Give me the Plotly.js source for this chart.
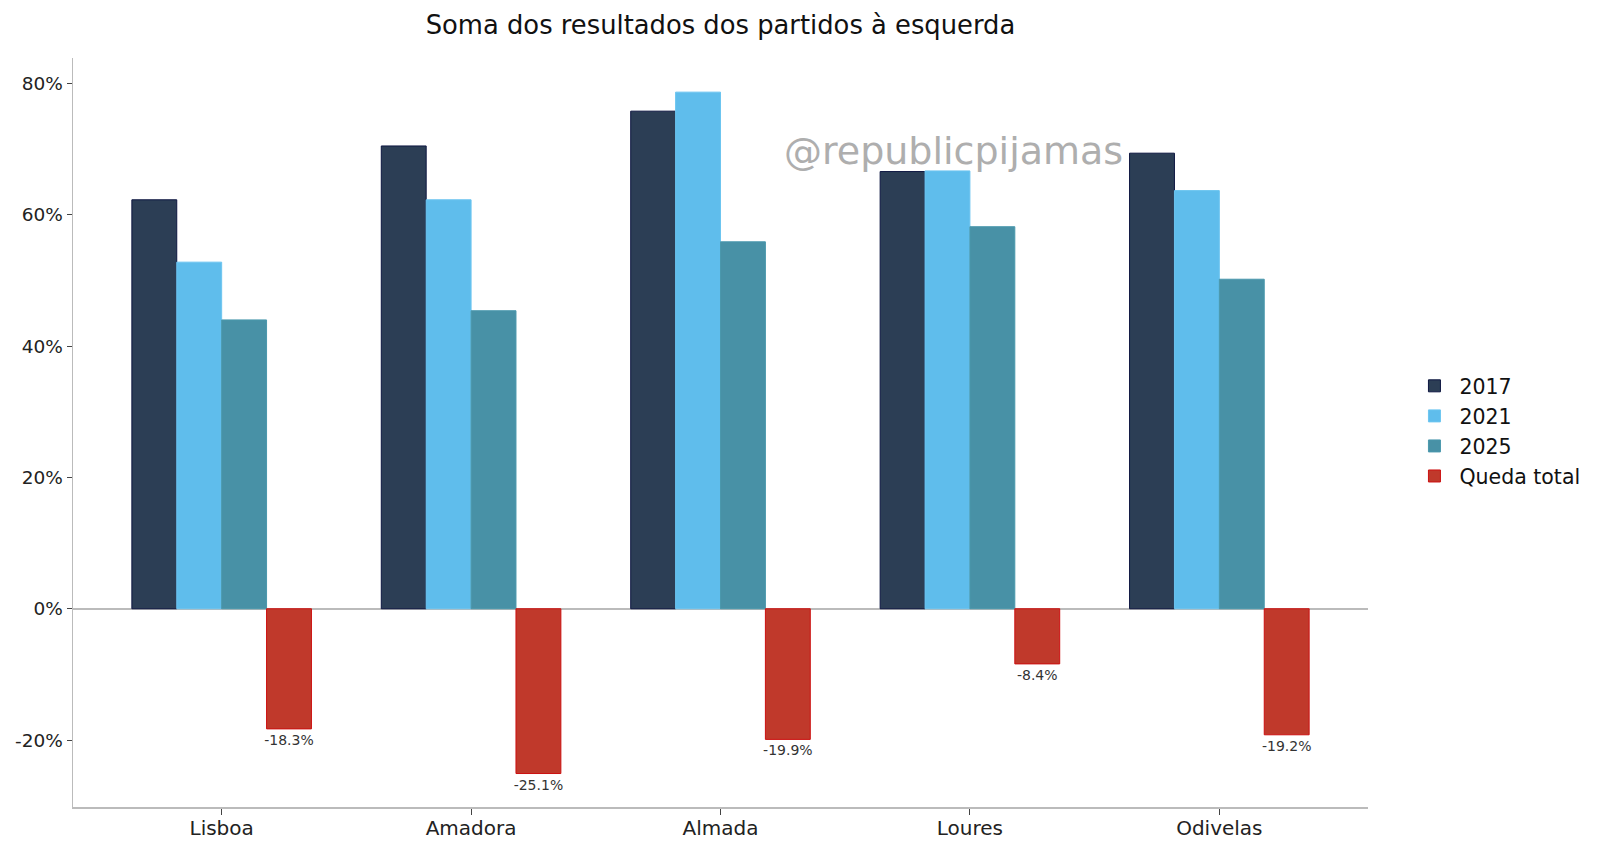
<!DOCTYPE html>
<html>
<head>
<meta charset="utf-8">
<script src="https://cdn.plot.ly/plotly-3.0.1.min.js"></script>
<style>html,body{margin:0;padding:0;background:#fff;}#chart{width:1600px;height:852px;}</style>
</head>
<body>
<div id="chart"></div>
<script>
const categories = ['Lisboa', 'Amadora', 'Almada', 'Loures', 'Odivelas'];
const v2017 = [62.3, 70.5, 75.8, 66.6, 69.4];
const v2021 = [52.8, 62.3, 78.7, 66.7, 63.7];
const v2025 = [44.0, 45.4, 55.9, 58.2, 50.2];
const quedaTotal = [-18.3, -25.1, -19.9, -8.4, -19.2];
const yTickVals = [-20, 0, 20, 40, 60, 80];
const yTickText = ['-20%', '0%', '20%', '40%', '60%', '80%'];

const FONT = 'DejaVu Sans, Liberation Sans, sans-serif';

function barTrace(name, y, fill, edge) {
  return {
    type: 'bar', name: name, x: categories, y: y, legendgroup: name,
    marker: {color: fill, line: {color: edge, width: 1}},
    hoverinfo: 'skip'
  };
}

const traces = [
  barTrace('2017', v2017, '#2c3e55', '#0d1640'),
  barTrace('2021', v2021, '#5fbdec', '#6cc5f0'),
  barTrace('2025', v2025, '#4891a6', '#4a98ad'),
  Object.assign(barTrace('Queda total', quedaTotal, '#c0392b', '#cc1010'), {
    text: quedaTotal.map(v => v.toFixed(1) + '%'),
    textposition: 'outside',
    constraintext: 'none',
    cliponaxis: false,
    textfont: {family: FONT, size: 14, color: '#333333'}
  })
];

const layout = {
  width: 1600, height: 852,
  paper_bgcolor: '#ffffff', plot_bgcolor: '#ffffff',
  margin: {l: 73, r: 232, t: 58, b: 45},
  barmode: 'group', bargap: 0.28, bargroupgap: 0,
  font: {family: FONT, color: '#222222'},
  title: {
    text: 'Soma dos resultados dos partidos à esquerda',
    font: {family: FONT, size: 25.8, color: '#111111'},
    x: 0.5, xref: 'paper', xanchor: 'center',
    y: 0.9712, yref: 'container', yanchor: 'middle'
  },
  xaxis: {
    type: 'category', range: [-0.596, 4.596],
    showgrid: false, zeroline: false,
    showline: true, linecolor: '#bbbbbb', linewidth: 1.5,
    ticks: 'outside', ticklen: 6, tickcolor: '#444444', tickwidth: 1,
    ticklabelstandoff: -4,
    tickfont: {family: FONT, size: 20, color: '#222222'}
  },
  yaxis: {
    range: [-30.2, 83.9],
    tickvals: yTickVals, ticktext: yTickText,
    showgrid: false,
    zeroline: true, zerolinecolor: '#bbbbbb', zerolinewidth: 1.5,
    showline: true, linecolor: '#bbbbbb', linewidth: 1.5,
    ticks: 'outside', ticklen: 5, tickcolor: '#444444', tickwidth: 1,
    tickfont: {family: FONT, size: 18.5, color: '#222222'}
  },
  legend: {
    x: 1.032, xanchor: 'left', y: 0.502, yanchor: 'middle',
    font: {family: FONT, size: 20.5, color: '#111111'},
    bgcolor: 'rgba(0,0,0,0)', itemwidth: 40,
    traceorder: 'grouped', tracegroupgap: 0.4
  },
  annotations: [{
    text: '@republicpijamas', xref: 'paper', yref: 'paper',
    x: 0.680, y: 0.876, xanchor: 'center', yanchor: 'middle',
    showarrow: false,
    font: {family: FONT, size: 38, color: '#aeaeae'}
  }]
};

Plotly.newPlot('chart', traces, layout, {displayModeBar: false, staticPlot: true});
</script>
</body>
</html>
